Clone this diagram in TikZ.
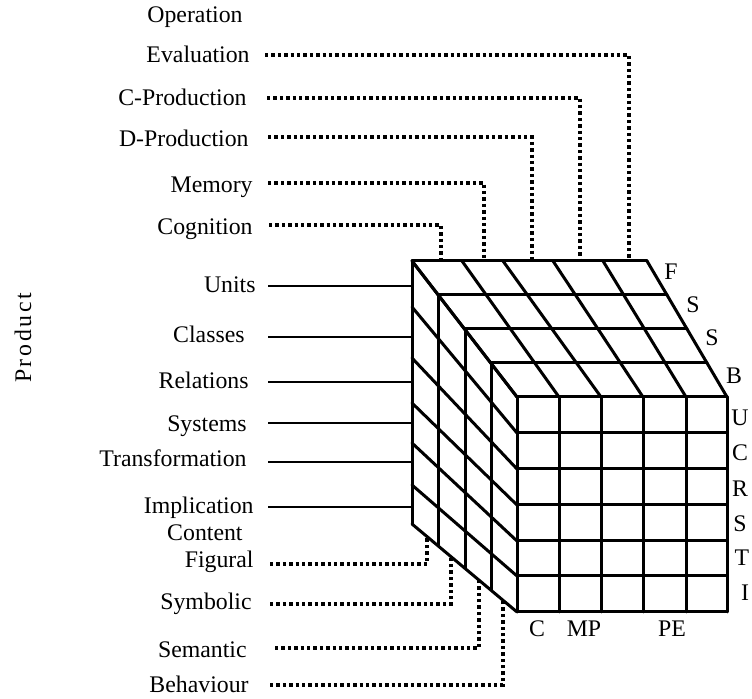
\documentclass[tikz,border=0pt]{standalone}
\usepackage{fontspec}
\setmainfont{Liberation Serif}
\begin{document}
\begin{tikzpicture}[x=0.5pt,y=-0.5pt,
  txt/.style={font=\fontsize{11.9pt}{14pt}\selectfont, inner sep=0pt},
  lab/.style={txt, anchor=base east},
  hdr/.style={txt, anchor=base west},
  cub/.style={line width=1.5pt, line cap=round, line join=round},
  prod/.style={line width=1.2pt},
  dots/.style={line width=1.6pt, dash pattern=on 1.7pt off 1.5pt}]
\useasboundingbox (0,0) rectangle (752,699);

% ---- labels: operation
\node[hdr] (op) at (147,23) {Operation};
\node[lab] (ev) at (250,63) {Evaluation};
\node[lab] (cp) at (247,106) {C-Production};
\node[lab] (dp) at (249,147) {D-Production};
\node[lab] (me) at (253,193) {Memory};
\node[lab] (co) at (253,235) {Cognition};
% ---- labels: product
\node[lab] (un) at (256,293) {Units};
\node[lab] (cl) at (245,343) {Classes};
\node[lab] (re) at (249,389) {Relations};
\node[lab] (sy) at (247,432) {Systems};
\node[lab] (tr) at (247,467) {Transformation};
\node[lab] (im) at (254,514) {Implication};
% ---- labels: content
\node[lab] (ct) at (243,541) {Content};
\node[lab] (fi) at (254,568) {Figural};
\node[lab] (sb) at (252,610) {Symbolic};
\node[lab] (se) at (247,658) {Semantic};
\node[lab] (be) at (249,693) {Behaviour};
\node[txt, rotate=90] (pr) at (23,338) {\addfontfeatures{LetterSpace=11}Product};

% ---- connector end points
\coordinate (evS) at (265,55);  \coordinate (evE) at (629,261);
\coordinate (cpS) at (267,98);  \coordinate (cpE) at (580,261);
\coordinate (dpS) at (268,137); \coordinate (dpE) at (532,261);
\coordinate (meS) at (268,183); \coordinate (meE) at (484,261);
\coordinate (coS) at (269,225); \coordinate (coE) at (441,261);

\coordinate (unS) at (268,286); \coordinate (unE) at (412,286);
\coordinate (clS) at (268,337); \coordinate (clE) at (412,337);
\coordinate (reS) at (268,382); \coordinate (reE) at (412,382);
\coordinate (syS) at (268,423); \coordinate (syE) at (412,423);
\coordinate (trS) at (268,462); \coordinate (trE) at (412,462);
\coordinate (imS) at (268,507); \coordinate (imE) at (412,507);

\coordinate (fiS) at (270,564); \coordinate (fiE) at (427,536.6);
\coordinate (sbS) at (270,604); \coordinate (sbE) at (451,556.7);
\coordinate (seS) at (275,648); \coordinate (seE) at (479,580.1);
\coordinate (beS) at (270,685); \coordinate (beE) at (503,600.3);

% ---- dotted connectors
\foreach \n in {ev,cp,dp,me,co,fi,sb,se,be}
  \draw[dots] (\n S) -| (\n E);
% ---- solid connectors
\foreach \n in {un,cl,re,sy,tr,im}
  \draw[prod] (\n S) -- (\n E);

% ---- cube faces
\fill[white] (412,261) -- (647,261) -- (727,397) -- (727,612) -- (517,612) -- (412,524) -- cycle;
% top face column lines
\foreach \xb/\xf in {412/517, 462/559, 503/601, 553/643, 603/686, 647/727}
  \draw[cub] (\xb,261) -- (\xf,397);
% top face depth lines
\foreach \xl/\xr/\y in {412/647/261, 438/667/295, 465/687/329, 491/707/363, 517/727/397}
  \draw[cub] (\xl,\y) -- (\xr,\y);
% front face
\foreach \x in {517,559,601,643,686,727}
  \draw[cub] (\x,397) -- (\x,612);
\foreach \y in {397,433,469,505,541,576,612}
  \draw[cub] (517,\y) -- (727,\y);
% left face rows
\foreach \yb/\yf in {261/397, 307/433, 358/469, 403/505, 443/541, 485/576, 524/612}
  \draw[cub] (412,\yb) -- (517,\yf);
% left face verticals
\foreach \x/\yt/\yb in {412/261/524, 438/295/546, 465/329/568, 491/363/590}
  \draw[cub] (\x,\yt) -- (\x,\yb);

% ---- letters on the right
\node[txt] (lF)  at (671,272) {F};
\node[txt] (lS1) at (693,305) {S};
\node[txt] (lS2) at (712,338) {S};
\node[txt] (lB)  at (734,376) {B};
\node[txt] (lU)  at (740,418) {U};
\node[txt] (lC)  at (740,453) {C};
\node[txt] (lR)  at (740,489) {R};
\node[txt] (lS3) at (740,524) {S};
\node[txt] (lT)  at (742,558) {T};
\node[txt] (lI)  at (745,593) {I};
% ---- letters below
\node[txt] (bC)  at (537,629) {C};
\node[txt] (bMP) at (584,629) {MP};
\node[txt] (bPE) at (672,629) {PE};
\end{tikzpicture}
\end{document}
